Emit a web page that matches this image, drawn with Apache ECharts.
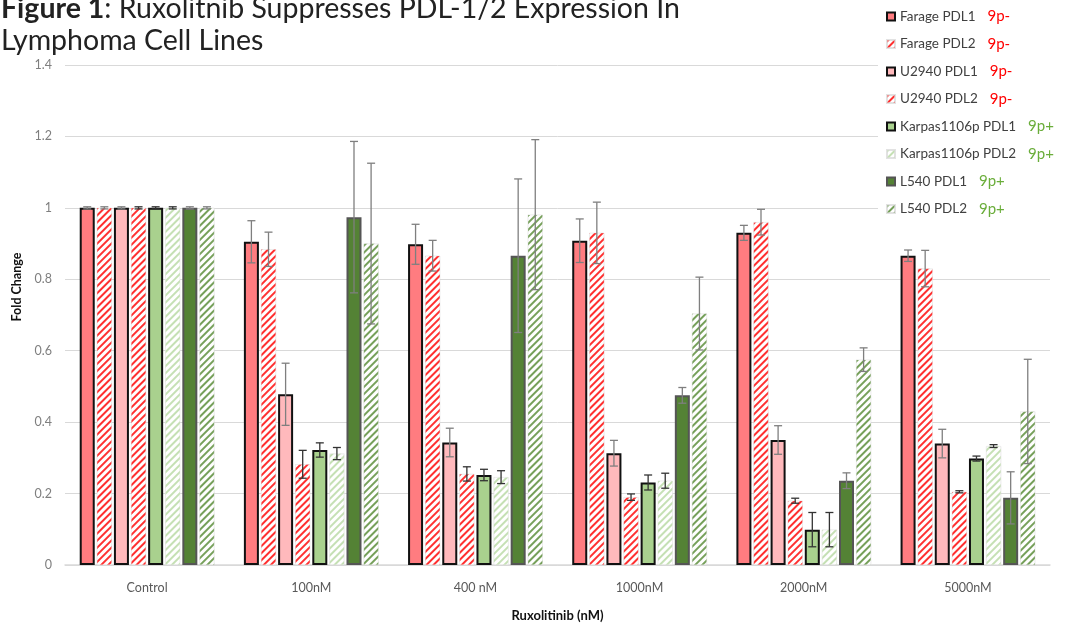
<!DOCTYPE html>
<html>
<head>
<meta charset="utf-8">
<script src="https://cdn.jsdelivr.net/npm/echarts@6/dist/echarts.min.js"></script>
<style>
  html, body { margin: 0; padding: 0; background: #fff; }
  #chart { width: 1070px; height: 627px; }
</style>
</head>
<body>
<div id="chart"></div>
<script>
// categories on the x axis
const doses = ['Control', '100nM', '400 nM', '1000nM', '2000nM', '5000nM']
const yTicks = [0, 0.2, 0.4, 0.6, 0.8, 1, 1.2, 1.4]

// fold change
const faragePDL1 = [1, 0.905, 0.898, 0.908, 0.93, 0.866]
const faragePDL2 = [1, 0.884, 0.866, 0.93, 0.96, 0.83]
const u2940PDL1 = [1, 0.478, 0.343, 0.313, 0.35, 0.34]
const u2940PDL2 = [1, 0.282, 0.255, 0.19, 0.18, 0.205]
const karpasPDL1 = [1, 0.322, 0.252, 0.231, 0.099, 0.298]
const karpasPDL2 = [1, 0.312, 0.246, 0.236, 0.099, 0.333]
const l540PDL1 = [1, 0.974, 0.866, 0.475, 0.236, 0.188]
const l540PDL2 = [1, 0.9, 0.981, 0.704, 0.575, 0.43]

// +/- error
const faragePDL1Err = [0.003, 0.059, 0.056, 0.061, 0.021, 0.016]
const faragePDL2Err = [0.003, 0.048, 0.043, 0.086, 0.036, 0.051]
const u2940PDL1Err = [0.003, 0.087, 0.04, 0.036, 0.04, 0.04]
const u2940PDL2Err = [0.003, 0.039, 0.02, 0.009, 0.007, 0.003]
const karpasPDL1Err = [0.003, 0.02, 0.016, 0.021, 0.048, 0.007]
const karpasPDL2Err = [0.003, 0.017, 0.018, 0.021, 0.048, 0.004]
const l540PDL1Err = [0.003, 0.212, 0.215, 0.022, 0.022, 0.073]
const l540PDL2Err = [0.003, 0.225, 0.21, 0.102, 0.033, 0.146]

const seriesNames = ['Farage PDL1', 'Farage PDL2', 'U2940 PDL1', 'U2940 PDL2',
  'Karpas1106p PDL1', 'Karpas1106p PDL2', 'L540 PDL1', 'L540 PDL2']
const seriesValues = [faragePDL1, faragePDL2, u2940PDL1, u2940PDL2,
  karpasPDL1, karpasPDL2, l540PDL1, l540PDL2]
const seriesErrors = [faragePDL1Err, faragePDL2Err, u2940PDL1Err, u2940PDL2Err,
  karpasPDL1Err, karpasPDL2Err, l540PDL1Err, l540PDL2Err]
const chromTags = ['9p-', '9p-', '9p-', '9p-', '9p+', '9p+', '9p+', '9p+']

// looks of each series (solid = PDL1, hatched = PDL2)
const looks = [
  { fill: '#ff7c80', border: '#111' },
  { hatch: '#ff3030' },
  { fill: '#ffb9bc', border: '#111' },
  { hatch: '#ff3030' },
  { fill: '#a9d18e', border: '#111' },
  { hatch: '#c5e0b4' },
  { fill: '#548235', border: '#555' },
  { hatch: '#76a05a' },
]

const BAR_W = 15
const BAR_GAP = 0.14
const font = 'Lato, "Open Sans", sans-serif'

const chart = echarts.init(document.getElementById('chart'))

function barSeries(i) {
  const lk = looks[i]
  let itemStyle
  if (lk.hatch) {
    itemStyle = {
      color: '#fff',
      borderColor: 'rgba(220,220,220,0.6)',
      borderWidth: 0.5,
      decal: {
        symbol: 'rect',
        symbolSize: 1,
        color: lk.hatch,
        dashArrayX: [1, 0],
        dashArrayY: [1.1, 2.3],
        rotation: -Math.PI / 4,
      },
    }
  } else {
    itemStyle = { color: lk.fill, borderColor: lk.border, borderWidth: 2 }
  }
  return {
    name: seriesNames[i],
    type: 'bar',
    barWidth: BAR_W,
    barGap: BAR_GAP * 100 + '%',
    barCategoryGap: '17%',
    data: seriesValues[i],
    itemStyle: itemStyle,
    emphasis: { disabled: true },
  }
}

function errSeries(i) {
  const n = seriesNames.length
  const pitch = BAR_W * (1 + BAR_GAP)
  const total = n * BAR_W + (n - 1) * BAR_W * BAR_GAP
  const offset = -total / 2 + i * pitch + BAR_W / 2
  const dark = i === 4 || i === 5 || i === 3
  return {
    name: seriesNames[i] + ' err',
    type: 'custom',
    z: 5,
    silent: true,
    data: seriesValues[i].map((v, k) => [k, v - seriesErrors[i][k], v + seriesErrors[i][k]]),
    renderItem: (params, api) => {
      const lo = api.coord([api.value(0), api.value(1)])
      const hi = api.coord([api.value(0), api.value(2)])
      const x = lo[0] + offset
      const cap = 4
      const style = { stroke: dark ? '#333' : '#7f7f7f', lineWidth: 1.3 }
      return {
        type: 'group',
        children: [
          { type: 'line', shape: { x1: x, y1: lo[1], x2: x, y2: hi[1] }, style },
          { type: 'line', shape: { x1: x - cap, y1: lo[1], x2: x + cap, y2: lo[1] }, style },
          { type: 'line', shape: { x1: x - cap, y1: hi[1], x2: x + cap, y2: hi[1] }, style },
        ],
      }
    },
  }
}

const series = []
seriesNames.forEach((n, i) => series.push(barSeries(i)))
seriesNames.forEach((n, i) => series.push(errSeries(i)))

chart.setOption({
  animation: false,
  backgroundColor: '#fff',
  textStyle: { fontFamily: font },
  title: {
    text: '{b|Figure 1}: Ruxolitnib Suppresses PDL-1/2 Expression In\nLymphoma Cell Lines',
    left: -4,
    top: -12,
    textStyle: {
      fontFamily: font,
      fontSize: 28.5,
      fontWeight: 'normal',
      color: '#222',
      lineHeight: 32,
      rich: {
        b: { fontFamily: font, fontSize: 28.5, fontWeight: 'bold', color: '#222', lineHeight: 32 },
      },
    },
  },
  legend: {
    data: seriesNames,
    orient: 'vertical',
    left: 878,
    top: 5,
    padding: [4, 10, 4, 8],
    backgroundColor: '#fff',
    itemWidth: 8,
    itemHeight: 8,
    itemGap: 12.5,
    icon: 'rect',
    selectedMode: false,
    formatter: (name) => {
      const i = seriesNames.indexOf(name)
      const cls = chromTags[i] === '9p-' ? 'neg' : 'pos'
      return name + '  {' + cls + '|' + chromTags[i] + '}'
    },
    textStyle: {
      fontFamily: font,
      fontSize: 13.5,
      color: '#404040',
      rich: {
        neg: { fontFamily: font, fontSize: 15, color: '#ff0000', padding: [0, 0, 0, 5] },
        pos: { fontFamily: font, fontSize: 15, color: '#6aad3a', padding: [0, 0, 0, 5] },
      },
    },
  },
  grid: { left: 65, right: 20, top: 65, bottom: 57 },
  xAxis: {
    type: 'category',
    data: doses,
    name: 'Ruxolitinib (nM)',
    nameLocation: 'middle',
    nameGap: 44,
    nameTextStyle: { fontFamily: font, fontSize: 13, fontWeight: 'bold', color: '#111' },
    axisLine: { lineStyle: { color: '#d9d9d9', width: 1.5 } },
    axisTick: { show: false },
    axisLabel: { color: '#595959', fontSize: 12.5, margin: 16 },
  },
  yAxis: {
    type: 'value',
    min: 0,
    max: 1.4,
    interval: 0.2,
    name: 'Fold Change',
    nameLocation: 'middle',
    nameGap: 40,
    nameTextStyle: { fontFamily: font, fontSize: 12.5, fontWeight: 'bold', color: '#111', padding: [0, 0, 0, 56] },
    axisLine: { show: false },
    axisTick: { show: false },
    axisLabel: {
      color: '#7f7f7f',
      fontSize: 12.5,
      margin: 13,
      formatter: (v) => {
        const t = yTicks.find((x) => Math.abs(x - v) < 1e-6)
        return t === undefined ? '' : String(t)
      },
    },
    splitLine: { lineStyle: { color: '#d9d9d9', width: 1 } },
  },
  series: series,
})
</script>
</body>
</html>
